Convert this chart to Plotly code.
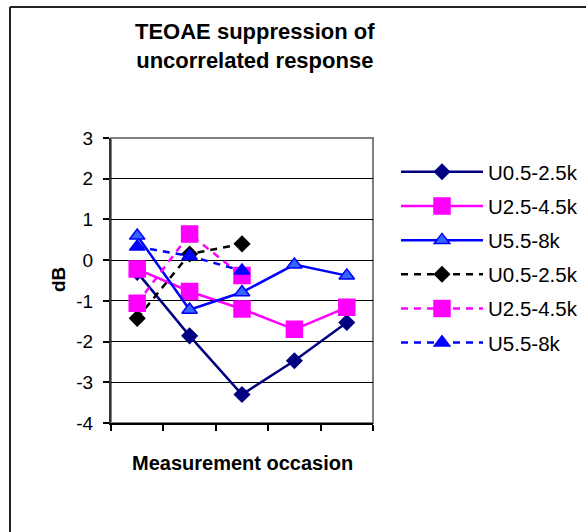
import plotly.graph_objects as go

# Measurement occasions (five sessions along the category axis)
occasions = [1, 2, 3, 4, 5]
tick_bounds = [0.5, 1.5, 2.5, 3.5, 4.5, 5.5]
db_ticks = [3, 2, 1, 0, -1, -2, -3, -4]
db_labels = ["3", "2", "1", "0", "-1", "-2", "-3", "-4"]

# Suppression (dB) per frequency band, first condition (solid lines)
u_05_25 = [-0.30, -1.86, -3.30, -2.47, -1.53]
u_25_45 = [-0.22, -0.77, -1.20, -1.70, -1.16]
u_55_8 = [0.60, -1.22, -0.79, -0.11, -0.38]

# Second condition (dashed lines), three occasions only
u_05_25_b = [-1.43, 0.15, 0.40, None, None]
u_25_45_b = [-1.06, 0.64, -0.38, None, None]
u_55_8_b = [0.33, 0.10, -0.26, None, None]

series_names = ["U0.5-2.5k", "U2.5-4.5k", "U5.5-8k"]

FONT = "Arial, Liberation Sans, sans-serif"
W, H = 586, 532
L, R, T, B = 111, 373, 138, 423  # plot area in pixels


def px_x(px):
    return (px - L) / (R - L)


def px_y(py):
    return (B - py) / (B - T)


fig = go.Figure()

styles = [
    (u_05_25, series_names[0], "#000080", "solid", "diamond", 11.5, "#000080", "#000080"),
    (u_25_45, series_names[1], "#FF00FF", "solid", "square", 16, "#FF00FF", "#FF00FF"),
    (u_55_8, series_names[2], "#0000FF", "solid", "triangle-up", 13.5, "#3366FF", "#0000FF"),
    (u_05_25_b, series_names[0], "#000000", "7px,6px", "diamond", 11.5, "#000000", "#000000"),
    (u_25_45_b, series_names[1], "#FF00FF", "7px,6px", "square", 16, "#FF00FF", "#FF00FF"),
    (u_55_8_b, series_names[2], "#0000FF", "7px,6px", "triangle-up", 13.5, "#0000FF", "#0000FF"),
]

for i, (vals, name, color, dash, sym, size, fill, edge) in enumerate(styles):
    fig.add_trace(go.Scatter(
        x=occasions, y=vals, name=name, mode="lines+markers",
        legendgroup=f"g{i}",
        line=dict(color=color, width=2.5, dash=dash),
        marker=dict(symbol=sym, size=size, color=fill,
                    line=dict(color=edge, width=1.5)),
        connectgaps=False,
    ))

# Grey plot-area frame
fig.add_shape(type="rect", xref="paper", yref="paper", x0=0, x1=1, y0=0, y1=1,
              line=dict(color="#808080", width=2), layer="below")

# Outer chart border (top and left edges)
fig.add_shape(type="line", xref="paper", yref="paper",
              x0=px_x(10), x1=px_x(W + 5), y0=px_y(7), y1=px_y(7),
              line=dict(color="#222222", width=2))
fig.add_shape(type="line", xref="paper", yref="paper",
              x0=px_x(10), x1=px_x(10), y0=px_y(7), y1=px_y(H + 5),
              line=dict(color="#222222", width=2))

# Titles
fig.add_annotation(text="<b>TEOAE suppression of<br>uncorrelated response</b>",
                   xref="paper", yref="paper", x=px_x(255), y=px_y(46),
                   xanchor="center", yanchor="middle", showarrow=False,
                   font=dict(family=FONT, size=22, color="black"))
fig.add_annotation(text="<b>Measurement occasion</b>",
                   xref="paper", yref="paper", x=px_x(242), y=px_y(463),
                   xanchor="center", yanchor="middle", showarrow=False,
                   font=dict(family=FONT, size=20, color="black"))
fig.add_annotation(text="<b>dB</b>", textangle=-90,
                   xref="paper", yref="paper", x=px_x(58), y=px_y(280),
                   xanchor="center", yanchor="middle", showarrow=False,
                   font=dict(family=FONT, size=19, color="black"))

fig.update_layout(
    width=W, height=H,
    margin=dict(l=L, r=W - R, t=T, b=H - B, pad=0, autoexpand=False),
    paper_bgcolor="white", plot_bgcolor="white",
    font=dict(family=FONT, color="black"),
    showlegend=True,
    legend=dict(
        x=px_x(396), y=px_y(152), xanchor="left", yanchor="top",
        font=dict(family=FONT, size=20.5, color="black"),
        bgcolor="rgba(0,0,0,0)", borderwidth=0,
        traceorder="grouped", tracegroupgap=4.5, itemwidth=82,
    ),
    xaxis=dict(
        range=[0.5, 5.5], tickmode="array", tickvals=tick_bounds,
        ticktext=["" for _ in tick_bounds],
        ticks="outside", ticklen=6, tickcolor="black", tickwidth=1.5,
        showgrid=False, zeroline=False,
        showline=True, linecolor="black", linewidth=2,
    ),
    yaxis=dict(
        range=[-4, 3], tickmode="array", tickvals=db_ticks, ticktext=db_labels,
        ticks="outside", ticklen=6, tickcolor="black", tickwidth=1.5,
        ticklabelstandoff=6,
        tickfont=dict(family=FONT, size=19, color="black"),
        showgrid=True, gridcolor="black", gridwidth=1,
        zeroline=False,
        showline=True, linecolor="#333333", linewidth=2,
    ),
)

fig.write_html("out.html")
